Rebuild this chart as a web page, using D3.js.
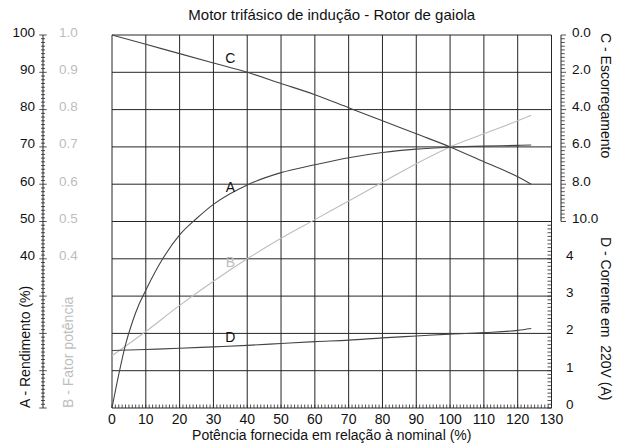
<!DOCTYPE html>
<html><head><meta charset="utf-8">
<script src="https://cdn.jsdelivr.net/npm/d3@7"></script>
<style>
html,body{margin:0;padding:0;background:#fff;}
svg{display:block;font-family:"Liberation Sans",Arial,Helvetica,sans-serif;}
text{white-space:pre;}
</style></head>
<body>
<svg id="chart" width="621" height="445"></svg>
<script>
// ---- data ----
const titleText = "Motor trifásico de indução - Rotor de gaiola";
const xTitle = "Potência fornecida em relação à nominal (%)";
const titleA = "A - Rendimento (%)";
const titleB = "B - Fator potência";
const titleC = "C - Escorregamento";
const titleD = "D - Corrente em  220V (A)";

const xTicks = [0,10,20,30,40,50,60,70,80,90,100,110,120,130];
const aTicks = [40,50,60,70,80,90,100];
const bTicks = [0.4,0.5,0.6,0.7,0.8,0.9,1.0];
const cTicks = [0,2,4,6,8,10];
const dTicks = [0,1,2,3,4];

// A - efficiency (%)
const effLoad = [0,2,4,6,8,10,15,20,25,30,40,50,60,70,80,90,100,110,120,124];
const efficiency = [0,9,17,23,27.8,31.6,40,46.4,50.8,54.6,59.8,63.1,65.2,67.1,68.5,69.4,69.9,70.2,70.4,70.5];

// shared load points for B, C, D
const load = [0,10,20,30,40,50,60,70,80,90,100,110,120,124];
const powerFactor = [0.14,0.205,0.275,0.34,0.40,0.455,0.505,0.555,0.605,0.655,0.70,0.735,0.77,0.785];
const slip = [0,0.5,1.0,1.5,2.0,2.6,3.2,3.9,4.6,5.3,6.0,6.8,7.6,8.0];
const current = [1.54,1.57,1.60,1.64,1.68,1.73,1.78,1.82,1.88,1.93,1.98,2.02,2.08,2.13];

// ---- drawing ----
const svg = d3.select("#chart");
const L = 112, R = 551.5, T = 35, B = 408;
const x = d3.scaleLinear().domain([0,130]).range([L,R]);
const yA = d3.scaleLinear().domain([0,100]).range([B,T]);
const yB = d3.scaleLinear().domain([0,1]).range([B,T]);
const yC = d3.scaleLinear().domain([0,10]).range([T,T+(B-T)/2]);
const yD = d3.scaleLinear().domain([0,5]).range([B,T+(B-T)/2]);

const dark = "#262626", grey = "#bdbdbd", fs = 13.5;

// title
svg.append("text").attr("x",(L+R)/2).attr("y",19.5).attr("text-anchor","middle")
  .attr("font-size",15).attr("fill","#111").text(titleText);

// grid
const g = svg.append("g").attr("stroke",dark).attr("stroke-width",1).attr("fill","none");
g.selectAll("line.v").data(xTicks).join("line")
  .attr("x1",d=>x(d)).attr("x2",d=>x(d)).attr("y1",T).attr("y2",B);
g.selectAll("line.h").data(d3.range(0,101,10)).join("line").attr("class","h")
  .attr("x1",L).attr("x2",R).attr("y1",d=>yA(d)).attr("y2",d=>yA(d));

// bottom minor ticks (pointing up)
svg.append("g").attr("stroke",dark).attr("stroke-width",0.8)
  .selectAll("line").data(d3.range(0,131,1)).join("line")
  .attr("x1",d=>x(d)).attr("x2",d=>x(d)).attr("y1",B).attr("y2",B-3.5);
svg.append("g").selectAll("text").data(xTicks).join("text")
  .attr("x",d=>x(d)).attr("y",423.5).attr("text-anchor","middle")
  .attr("font-size",14).attr("fill","#111").text(d=>d);
svg.append("text").attr("x",(L+R)/2).attr("y",440).attr("text-anchor","middle")
  .attr("font-size",14).attr("fill","#111").text(xTitle);

// left axis (A & B share it)
const ax = 43;
const la = svg.append("g").attr("stroke",dark).attr("stroke-width",0.8);
la.append("line").attr("x1",ax).attr("x2",ax).attr("y1",T).attr("y2",B).attr("stroke-width",1);
la.selectAll("line.m").data(d3.range(0,101,1)).join("line").attr("class","m")
  .attr("x1",d=>ax-(d%10===0?3.7:2)).attr("x2",d=>ax+(d%10===0?3.7:2))
  .attr("y1",d=>yA(d)).attr("y2",d=>yA(d));
svg.append("g").selectAll("text").data(aTicks).join("text")
  .attr("x",35).attr("y",d=>yA(d)+1.5).attr("text-anchor","end")
  .attr("font-size",fs).attr("fill","#111").text(d=>d);
svg.append("g").selectAll("text").data(bTicks).join("text")
  .attr("x",59).attr("y",d=>yB(d)+1.5).attr("text-anchor","start")
  .attr("font-size",fs).attr("fill",grey).text(d=>d3.format(".1f")(d));
svg.append("text").attr("transform",`translate(30,${B}) rotate(-90)`)
  .attr("font-size",14).attr("fill","#111").text(titleA);
svg.append("text").attr("transform",`translate(72.5,${B}) rotate(-90)`)
  .attr("font-size",14).attr("fill",grey).text(titleB);

// right C axis
const cx = 561;
const ca = svg.append("g").attr("stroke",dark).attr("stroke-width",0.8);
ca.append("line").attr("x1",cx).attr("x2",cx).attr("y1",yC(0)).attr("y2",yC(10)).attr("stroke-width",1);
ca.selectAll("line.m").data(d3.range(0,51,1)).join("line").attr("class","m")
  .attr("x1",cx).attr("x2",d=>cx+(d%10===0?5:3.8))
  .attr("y1",d=>yC(d/5)).attr("y2",d=>yC(d/5));
svg.append("g").selectAll("text").data(cTicks).join("text")
  .attr("x",572).attr("y",d=>yC(d)+1.5).attr("font-size",fs).attr("fill","#111")
  .text(d=>d3.format(".1f")(d));
svg.append("text").attr("transform",`translate(601,33) rotate(90)`)
  .attr("font-size",14).attr("fill","#111").text(titleC);

// right D axis (ticks inside plot border)
const da = svg.append("g").attr("stroke",dark).attr("stroke-width",0.8);
da.selectAll("line").data(d3.range(0,51,1)).join("line")
  .attr("x1",R-4).attr("x2",R).attr("y1",d=>yD(d/10)).attr("y2",d=>yD(d/10));
svg.append("g").selectAll("text").data(dTicks).join("text")
  .attr("x",566).attr("y",d=>yD(d)+1).attr("font-size",fs).attr("fill","#111").text(d=>d);
svg.append("text").attr("transform",`translate(601,237) rotate(90)`)
  .attr("font-size",14).attr("fill","#111").text(titleD);

// curves
const mk = (xs, ys, ysc) => d3.line().curve(d3.curveMonotoneX)
  .x((d,i)=>x(xs[i])).y(d=>ysc(d))(ys);
const cg = svg.append("g").attr("fill","none").attr("stroke-width",1.1);
cg.append("path").attr("d",mk(load,powerFactor,yB)).attr("stroke",grey);
cg.append("path").attr("d",mk(effLoad,efficiency,yA)).attr("stroke","#444");
cg.append("path").attr("d",mk(load,slip,yC)).attr("stroke","#444");
cg.append("path").attr("d",mk(load,current,yD)).attr("stroke","#444");

// curve labels
const lx = x(35);
const lab = [["C", yC(1.5), "#111"],["A", yA(57.9), "#111"],["B", yB(0.377), grey],["D", yD(1.78), "#111"]];
svg.append("g").selectAll("text").data(lab).join("text")
  .attr("x",lx).attr("y",d=>d[1]).attr("text-anchor","middle")
  .attr("font-size",14).attr("fill",d=>d[2]).text(d=>d[0]);
</script>
</body></html>
